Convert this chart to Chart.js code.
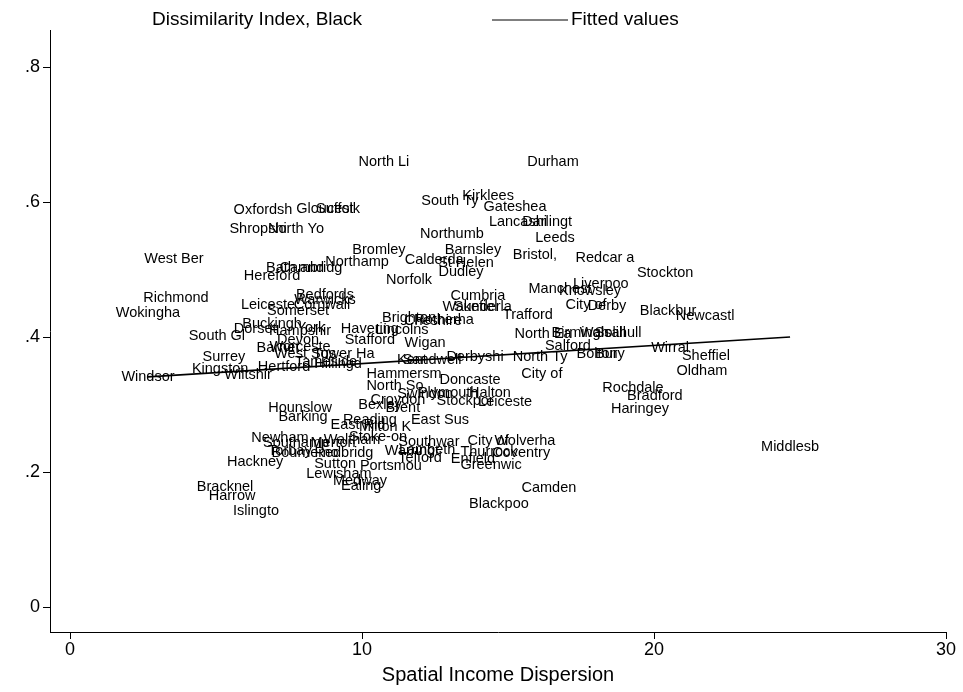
<!DOCTYPE html>
<html>
<head>
<meta charset="utf-8">
<script src="https://cdn.jsdelivr.net/npm/chart.js@4"></script>
<style>
  html, body { margin: 0; padding: 0; background: #fff; }
  #wrap { width: 963px; height: 692px; }
</style>
</head>
<body>
<div id="wrap"><canvas id="grafico" width="963" height="692"></canvas></div>
<script>
// nomes das areas (truncados como no Stata)
const areaNames = [
  'North Li', 'Durham', 'Kirklees', 'South Ty', 'Gateshea', 'Lancashi', 'Darlingt', 'Leeds',
  'Northumb', 'Oxfordsh', 'Gloucest', 'Suffolk', 'Shropshi', 'North Yo', 'Bromley', 'Barnsley',
  'Bristol,', 'Calderda', 'St Helen', 'Northamp', 'Redcar a', 'Dudley', 'West Ber', 'Bath and',
  'Cambridg', 'Hereford', 'Norfolk', 'Stockton', 'Liverpoo', 'Manchest', 'Knowsley', 'Cumbria',
  'Richmond', 'Bedfords', 'Warwicks', 'Leiceste', 'Cornwall', 'Somerset', 'Wakefiel', 'Sunderla',
  'Trafford', 'City of', 'Derby', 'Blackbur', 'Newcastl', 'Wokingha', 'Buckingh', 'Dorset',
  'Hampshir', 'York', 'Havering', 'Lincolns', 'Brighton', 'Cheshire', 'Rotherha', 'Stafford',
  'South Gl', 'Devon', 'Worceste', 'Barnet', 'Wigan', 'North Ea', 'Birmingh', 'Walsall',
  'Solihull', 'Salford', 'Bolton', 'Bury', 'Wirral', 'Sheffiel', 'Oldham', 'Surrey',
  'West Sus', 'Tower Ha', 'Hertford', 'Kingston', 'Wiltshir', 'Tameside', 'Hillingd', 'Kent',
  'Sandwell', 'Derbyshi', 'North Ty', 'Windsor', 'Hammersm', 'Doncaste', 'City of', 'Rochdale',
  'Bradford', 'Haringey', 'North So', 'Bexley', 'Croydon', 'Swindon', 'Plymouth', 'Halton',
  'Stockpor', 'Leiceste', 'Brent', 'Reading', 'East Sus', 'East Rid', 'Milton K', 'Stoke-on',
  'Hounslow', 'Barking', 'Newham', 'Southamp', 'Merton', 'Waltham', 'Southwar', 'City of',
  'Wolverha', 'Coventry', 'Torbay', 'Bournemo', 'Redbridg', 'Warringt', 'Lambeth', 'Telford',
  'Thurrock', 'Enfield', 'Hackney', 'Sutton', 'Lewisham', 'Portsmou', 'Greenwic', 'Medway',
  'Ealing', 'Camden', 'Bracknel', 'Harrow', 'Islingto', 'Blackpoo', 'Middlesb'
];

// dispersao espacial da renda (eixo x)
const incomeDispersion = [
  10.75, 16.54, 14.32, 13.01, 15.24, 15.34, 16.34, 16.61,
  13.08, 6.61, 8.73, 9.18, 6.44, 7.74, 10.58, 13.80,
  15.92, 12.47, 13.56, 9.83, 18.32, 13.39, 3.56, 7.71,
  8.25, 6.92, 11.61, 20.38, 18.18, 16.78, 17.81, 13.97,
  3.63, 8.73, 8.73, 6.78, 8.63, 7.81, 13.70, 14.14,
  15.68, 17.67, 18.39, 20.48, 21.75, 2.67, 6.92, 6.34,
  7.88, 8.25, 10.27, 11.37, 11.61, 12.43, 12.81, 10.27,
  5.03, 7.81, 7.88, 7.12, 12.16, 16.20, 17.47, 18.25,
  18.77, 17.05, 18.05, 18.49, 20.55, 21.78, 21.64, 5.27,
  8.05, 9.38, 7.33, 5.14, 6.10, 8.77, 9.18, 11.71,
  12.40, 13.87, 16.10, 2.67, 11.44, 13.70, 16.16, 19.28,
  20.03, 19.52, 11.13, 10.62, 11.23, 12.16, 12.95, 14.38,
  13.53, 14.90, 11.40, 10.27, 12.67, 9.86, 10.79, 10.55,
  7.88, 7.98, 7.19, 7.74, 9.01, 9.66, 12.29, 14.32,
  15.58, 15.45, 7.53, 8.05, 9.38, 11.71, 12.23, 11.99,
  14.35, 13.80, 6.34, 9.08, 9.21, 10.99, 14.42, 9.93,
  9.97, 16.40, 5.31, 5.55, 6.37, 14.69, 24.66
];

// indice de dissimilaridade (eixo y)
const dissimilarity = [
  0.659, 0.659, 0.609, 0.601, 0.593, 0.570, 0.570, 0.547,
  0.553, 0.588, 0.590, 0.590, 0.560, 0.560, 0.529, 0.529,
  0.521, 0.514, 0.510, 0.511, 0.517, 0.496, 0.516, 0.502,
  0.502, 0.490, 0.484, 0.495, 0.479, 0.471, 0.468, 0.461,
  0.458, 0.462, 0.455, 0.447, 0.447, 0.439, 0.444, 0.444,
  0.433, 0.447, 0.446, 0.439, 0.431, 0.436, 0.419, 0.412,
  0.409, 0.413, 0.412, 0.410, 0.428, 0.424, 0.425, 0.396,
  0.401, 0.396, 0.385, 0.384, 0.391, 0.404, 0.406, 0.406,
  0.406, 0.387, 0.375, 0.375, 0.384, 0.372, 0.350, 0.370,
  0.375, 0.375, 0.356, 0.353, 0.344, 0.363, 0.360, 0.366,
  0.366, 0.370, 0.370, 0.341, 0.345, 0.336, 0.345, 0.324,
  0.313, 0.293, 0.327, 0.299, 0.307, 0.316, 0.317, 0.317,
  0.305, 0.304, 0.295, 0.277, 0.277, 0.270, 0.267, 0.252,
  0.295, 0.281, 0.250, 0.243, 0.243, 0.247, 0.244, 0.246,
  0.246, 0.228, 0.231, 0.228, 0.228, 0.231, 0.233, 0.221,
  0.230, 0.219, 0.215, 0.212, 0.197, 0.209, 0.210, 0.187,
  0.179, 0.176, 0.178, 0.164, 0.142, 0.153, 0.237
];

// reta ajustada (extremos)
const fitX = [2.67, 24.66];
const fitY = [0.341, 0.400];

const xTicks = [0, 10, 20, 30];
const yTicks = [0, 0.2, 0.4, 0.6, 0.8];

const fonte = 'Arial, "Liberation Sans", sans-serif';

// escreve o nome de cada area no lugar do ponto
const rotulosPlugin = {
    id: 'rotulos',
    afterDatasetsDraw(chart) {
        const ctx = chart.ctx;
        const xs = chart.scales.x;
        const ys = chart.scales.y;
        const ds = chart.data.datasets[0];
        ctx.save();
        ctx.font = '14.5px ' + fonte;
        ctx.fillStyle = '#000';
        ctx.textAlign = 'center';
        ctx.textBaseline = 'middle';
        ds.data.forEach((p, i) => {
            ctx.fillText(ds.names[i], xs.getPixelForValue(p.x), ys.getPixelForValue(p.y));
        });
        ctx.restore();
    }
};

// legenda no topo, estilo Stata
const legendaPlugin = {
    id: 'legenda',
    afterDraw(chart) {
        const ctx = chart.ctx;
        const y = 20;
        ctx.save();
        ctx.font = '19px ' + fonte;
        ctx.fillStyle = '#000';
        ctx.textBaseline = 'middle';
        ctx.textAlign = 'left';
        ctx.fillText(chart.data.datasets[0].label, 152, y);
        ctx.strokeStyle = '#000';
        ctx.lineWidth = 1;
        ctx.beginPath();
        ctx.moveTo(492, y);
        ctx.lineTo(568, y);
        ctx.stroke();
        ctx.fillText(chart.data.datasets[1].label, 571, y);
        ctx.restore();
    }
};

const pontos = incomeDispersion.map((v, i) => ({ x: v, y: dissimilarity[i] }));
const linha = fitX.map((v, i) => ({ x: v, y: fitY[i] }));

const ctx = document.getElementById('grafico').getContext('2d');
new Chart(ctx, {
    type: 'scatter',
    data: {
        datasets: [{
            label: 'Dissimilarity Index, Black',
            data: pontos,
            names: areaNames,
            pointRadius: 0,
            pointHoverRadius: 0
        }, {
            type: 'line',
            label: 'Fitted values',
            data: linha,
            borderColor: '#000',
            borderWidth: 1.6,
            pointRadius: 0,
            fill: false
        }]
    },
    plugins: [rotulosPlugin, legendaPlugin],
    options: {
        responsive: false,
        animation: false,
        layout: { padding: { top: 30, right: 17, left: 0, bottom: 0 } },
        plugins: {
            legend: { display: false },
            tooltip: { enabled: false }
        },
        scales: {
            x: {
                type: 'linear',
                min: -0.685,
                max: 30,
                afterBuildTicks: s => { s.ticks = xTicks.map(v => ({ value: v })); },
                afterFit: s => { s.height = 60; },
                grid: { drawOnChartArea: false, drawTicks: true, tickLength: 7, color: '#000' },
                border: { display: true, color: '#000', width: 1 },
                ticks: { color: '#000', font: { family: fonte, size: 18 }, padding: 0, maxRotation: 0 },
                title: {
                    display: true,
                    text: 'Spatial Income Dispersion',
                    color: '#000',
                    font: { family: fonte, size: 20 },
                    padding: { top: 0, bottom: 5 }
                }
            },
            y: {
                type: 'linear',
                min: -0.037,
                max: 0.855,
                afterBuildTicks: s => { s.ticks = yTicks.map(v => ({ value: v })); },
                afterFit: s => { s.width = 50; },
                grid: { drawOnChartArea: false, drawTicks: true, tickLength: 7, color: '#000' },
                border: { display: true, color: '#000', width: 1 },
                ticks: {
                    color: '#000',
                    font: { family: fonte, size: 18 },
                    padding: 3,
                    callback: v => v === 0 ? '0' : v.toFixed(1).replace(/^0/, '')
                }
            }
        }
    }
});
</script>
</body>
</html>
